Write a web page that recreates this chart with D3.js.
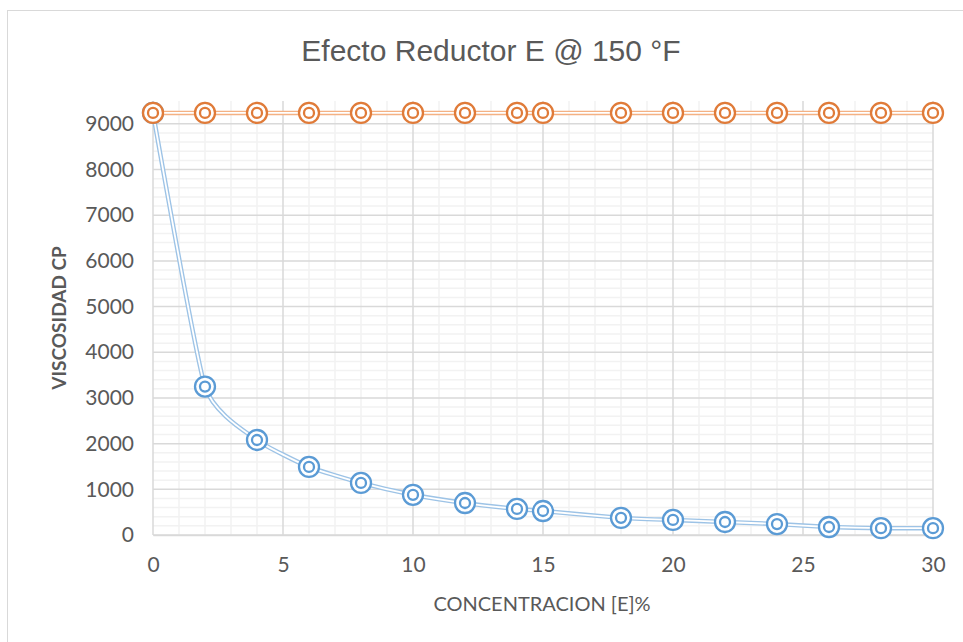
<!DOCTYPE html>
<html>
<head>
    <title>Efecto Reductor E</title>
    <script src="https://d3js.org/d3.v7.min.js"></script>
    <style>
        body { margin: 0; background: #fff; }
        svg { display: block; }
        text { fill: #595959; }
    </style>
</head>
<body>
    <svg width="963" height="642"></svg>
<script>
    // chart data
    let concentracion = [0, 2, 4, 6, 8, 10, 12, 14, 15, 18, 20, 22, 24, 26, 28, 30];
    let viscosidadReducida = [9240, 3250, 2080, 1490, 1140, 880, 700, 570, 525, 375, 330, 285, 240, 175, 150, 150];
    let viscosidadBase = [9240, 9240, 9240, 9240, 9240, 9240, 9240, 9240, 9240, 9240, 9240, 9240, 9240, 9240, 9240, 9240];
    let xTicks = [0, 5, 10, 15, 20, 25, 30];
    let yTicks = [0, 1000, 2000, 3000, 4000, 5000, 6000, 7000, 8000, 9000];

    let svg = d3.select('svg');

    // outer chart frame
    svg.append('rect')
        .attr('x', 7.5).attr('y', 10.5)
        .attr('width', 970).attr('height', 640)
        .style('fill', 'none')
        .style('stroke', '#d9d9d9');

    let xScale = d3.scaleLinear().domain([0, 30]).range([153, 933]);
    let yScale = d3.scaleLinear().domain([0, 9500]).range([535, 101]);

    let g = svg.append('g');
    let font = 'Lato, "Open Sans", sans-serif';

    // minor gridlines
    let minorX = d3.range(0, 31, 1).filter(d => d % 5 != 0);
    let minorY = d3.range(0, 9001, 200).filter(d => d % 1000 != 0);
    g.selectAll('.minor-x')
        .data(minorX)
        .join('line')
        .attr('x1', d => xScale(d)).attr('x2', d => xScale(d))
        .attr('y1', yScale(9500)).attr('y2', yScale(0))
        .style('stroke', '#f2f2f2').style('stroke-width', 1.5);
    g.selectAll('.minor-y')
        .data(minorY)
        .join('line')
        .attr('x1', xScale(0)).attr('x2', xScale(30))
        .attr('y1', d => yScale(d)).attr('y2', d => yScale(d))
        .style('stroke', '#f2f2f2').style('stroke-width', 1.5);

    // major gridlines
    g.selectAll('.major-x')
        .data(xTicks)
        .join('line')
        .attr('x1', d => xScale(d)).attr('x2', d => xScale(d))
        .attr('y1', yScale(9500)).attr('y2', yScale(0))
        .style('stroke', '#d9d9d9').style('stroke-width', 1.5);
    g.selectAll('.major-y')
        .data(yTicks)
        .join('line')
        .attr('x1', xScale(0)).attr('x2', xScale(30))
        .attr('y1', d => yScale(d)).attr('y2', d => yScale(d))
        .style('stroke', '#d9d9d9').style('stroke-width', 1.5);

    // axes (labels only, Excel style)
    let xAxis = g.append('g')
        .attr('transform', `translate(0,${yScale(0)})`)
        .call(d3.axisBottom(xScale).tickValues(xTicks).tickSize(0).tickPadding(22));
    xAxis.select('.domain').style('stroke', '#d9d9d9').style('stroke-width', 1.5);
    xAxis.selectAll('text')
        .style('font-family', font)
        .style('font-size', '21px').style('fill', '#595959');

    let yAxis = g.append('g')
        .attr('transform', `translate(${xScale(0)},0)`)
        .call(d3.axisLeft(yScale).tickValues(yTicks).tickSize(0).tickPadding(19).tickFormat(d3.format('d')));
    yAxis.select('.domain').remove();
    yAxis.selectAll('text')
        .style('font-family', font)
        .style('font-size', '21px').style('fill', '#595959');

    // title and axis titles
    svg.append('text')
        .attr('x', 491).attr('y', 61)
        .attr('text-anchor', 'middle')
        .style('font-family', '"Liberation Sans", Arial, sans-serif')
        .style('font-size', '30px')
        .text('Efecto Reductor E @ 150 °F');
    svg.append('text')
        .attr('x', 542).attr('y', 611)
        .attr('text-anchor', 'middle')
        .style('font-family', font)
        .style('font-size', '20px')
        .text('CONCENTRACION [E]%');
    svg.append('text')
        .attr('transform', 'translate(66,318) rotate(-90)')
        .attr('text-anchor', 'middle')
        .style('font-family', font)
        .style('font-size', '19px')
        .style('font-weight', 'bold')
        .text('VISCOSIDAD CP');

    // series: smoothed double line with double-ring markers
    let series = [
        { name: 'reducida', values: viscosidadReducida, line: '#9dc3e6', marker: '#5b9bd5' },
        { name: 'base', values: viscosidadBase, line: '#f4b183', marker: '#e07b39' }
    ];

    let line = d3.line()
        .x(d => xScale(d[0]))
        .y(d => yScale(d[1]))
        .curve(d3.curveCardinal.tension(0.5));

    series.forEach(s => {
        let pts = concentracion.map((c, i) => [c, s.values[i]]);
        let sg = svg.append('g');
        sg.append('path')
            .attr('d', line(pts))
            .style('fill', 'none')
            .style('stroke', s.line)
            .style('stroke-width', 4.5);
        sg.append('path')
            .attr('d', line(pts))
            .style('fill', 'none')
            .style('stroke', '#fff')
            .style('stroke-width', 1.8);
        sg.selectAll('.outer')
            .data(pts)
            .join('circle')
            .attr('cx', d => xScale(d[0]))
            .attr('cy', d => yScale(d[1]))
            .attr('r', 10)
            .style('fill', '#fff')
            .style('stroke', s.marker)
            .style('stroke-width', 2.3);
        sg.selectAll('.inner')
            .data(pts)
            .join('circle')
            .attr('cx', d => xScale(d[0]))
            .attr('cy', d => yScale(d[1]))
            .attr('r', 5)
            .style('fill', 'none')
            .style('stroke', s.marker)
            .style('stroke-width', 2.3);
    });
</script>
</body>
</html>
